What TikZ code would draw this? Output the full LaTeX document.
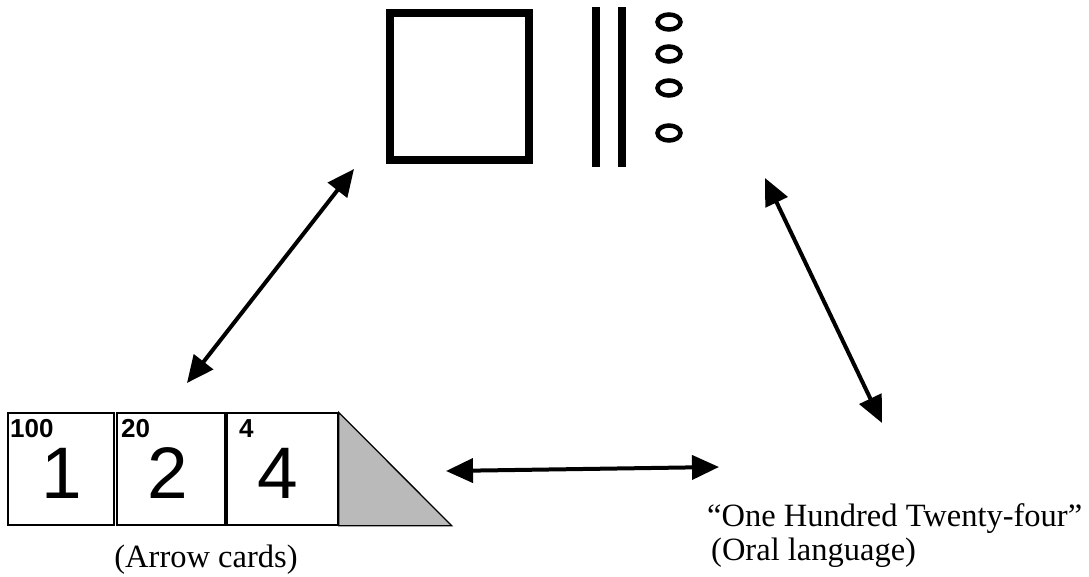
\documentclass[tikz,border=0pt]{standalone}
\usepackage{fontspec}
\setmainfont{Liberation Serif}
\newfontfamily\arial{Liberation Sans}
\usetikzlibrary{arrows.meta}

\tikzset{
  thickbox/.style={draw, line width=8pt},
  bead/.style={draw, line width=4.5pt},
  card/.style={draw, line width=1.3pt, minimum height=112pt, inner sep=0pt},
  bignum/.style={anchor=base, inner sep=0pt, font=\arial\fontsize{73}{73}\selectfont},
  placeval/.style={anchor=base west, inner sep=0pt, font=\arial\bfseries\fontsize{26}{26}\selectfont},
  caption/.style={inner sep=0pt, font=\fontsize{32.5}{36}\selectfont},
  link/.style={line width=4pt, {Triangle[length=27pt,width=24pt]}-{Triangle[length=27pt,width=24pt]}}
}

\begin{document}
\begin{tikzpicture}[x=1pt, y=-1pt]
  \useasboundingbox (0,0) rectangle (1089,576);

  % base-ten blocks: one flat, two rods, four units
  \draw[thickbox] (390,13) rectangle (529,160);
  \draw[thickbox] (596,7) -- (596,167);
  \draw[thickbox] (622,7) -- (622,167);
  \foreach \yy in {22,54,88,133}
    \draw[bead] (669,\yy) ellipse [x radius=11.5, y radius=7.5];

  % arrow cards
  \node[card, minimum width=106pt] (c1) at (61,469) {};
  \node[card, minimum width=108pt] (c2) at (171,469) {};
  \node[card, minimum width=111pt] (c3) at (282.5,469) {};
  \draw[line width=1.3pt, fill=black!27] (c3.north east) -- (c3.south east) -- ++(113,0) -- cycle;

  \node[placeval] (p1) at (10,437) {100};
  \node[placeval] (p2) at (121,437) {20};
  \node[placeval] (p3) at (239,437) {4};
  \node[bignum] (d1) at (62,498) {1};
  \node[bignum] (d2) at (168,498) {2};
  \node[bignum] (d3) at (278,498) {4};

  \node[caption, anchor=base] (lcards) at (206,567) {(Arrow cards)};
  \node[caption, anchor=base west] (lwords) at (707,526) {``One Hundred Twenty-four''};
  \node[caption, anchor=base west] (loral) at (711,560) {(Oral language)};

  % connecting double arrows
  \coordinate (a1) at (354,169);
  \coordinate (a2) at (187,383);
  \coordinate (b1) at (765,178);
  \coordinate (b2) at (882,423);
  \coordinate (h1) at (446,471);
  \coordinate (h2) at (719,467);
  \draw[link] (a1) -- (a2);
  \draw[link] (b1) -- (b2);
  \draw[link] (h1) -- (h2);
\end{tikzpicture}
\end{document}
